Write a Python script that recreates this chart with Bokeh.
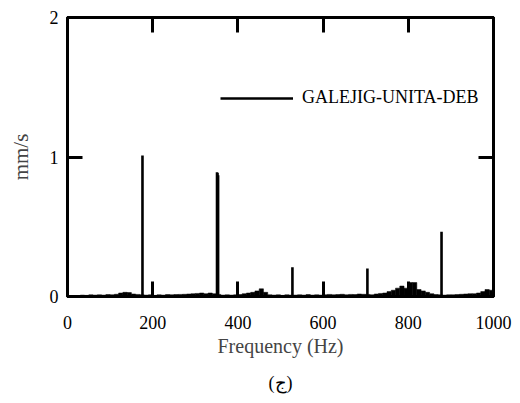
from bokeh.plotting import figure
from bokeh.models import (Range1d, LinearAxis, FixedTicker, Legend, LegendItem, Title,
                          CustomJSTickFormatter)
from bokeh.embed import file_html
from bokeh.resources import INLINE

# ---- data ----
bin_width_hz = 10
bin_left = list(range(0, 1000, 10))
baseline_amp = [
    0.004, 0.005, 0.006, 0.010, 0.008, 0.012, 0.010, 0.012, 0.010, 0.014,
    0.012, 0.016, 0.025, 0.030, 0.028, 0.018, 0.015, 0.012, 0.010, 0.012,
    0.008, 0.012, 0.010, 0.014, 0.012, 0.014, 0.015, 0.016, 0.018, 0.020,
    0.022, 0.025, 0.020, 0.025, 0.020, 0.015, 0.010, 0.012, 0.010, 0.012,
    0.014, 0.020, 0.025, 0.030, 0.040, 0.055, 0.030, 0.012, 0.010, 0.012,
    0.008, 0.012, 0.010, 0.010, 0.012, 0.010, 0.014, 0.010, 0.012, 0.010,
    0.012, 0.015, 0.012, 0.014, 0.016, 0.012, 0.015, 0.014, 0.018, 0.016,
    0.015, 0.012, 0.018, 0.022, 0.025, 0.035, 0.045, 0.060, 0.075, 0.060,
    0.100, 0.100, 0.050, 0.040, 0.030, 0.020, 0.014, 0.012, 0.010, 0.012,
    0.012, 0.014, 0.016, 0.018, 0.020, 0.020, 0.025, 0.035, 0.050, 0.045,
]
peak_freq = [176, 351, 352, 353.5, 528, 704, 878]
peak_amp = [1.01, 0.89, 0.885, 0.87, 0.21, 0.20, 0.465]

series_name = "GALEJIG-UNITA-DEB"
x_ticks = [0, 200, 400, 600, 800, 1000]
y_ticks = [0, 1, 2]
x_title = "Frequency (Hz)"
y_title = "mm/s"
caption = "(ج)"

FONT = "Liberation Serif"

p = figure(width=520, height=403, output_backend="svg", toolbar_location=None,
           x_range=Range1d(0, 1000), y_range=Range1d(0, 2),
           min_border_left=67, min_border_right=27, min_border_top=17, min_border_bottom=107)
p.grid.visible = False
p.outline_line_color = "black"
p.outline_line_width = 3
p.background_fill_color = "white"
p.border_fill_color = "white"

bin_centers = [b + bin_width_hz / 2 for b in bin_left]
p.vbar(x=bin_centers, width=bin_width_hz, top=baseline_amp, bottom=0,
       fill_color="black", line_color="black", line_width=0.5)
peaks = p.segment(x0=peak_freq, y0=[0] * len(peak_freq), x1=peak_freq, y1=peak_amp,
                  line_color="black", line_width=2.6, line_cap="butt")

def style_axis(ax, labels=True):
    ax.axis_line_width = 3
    ax.axis_line_color = "black"
    ax.major_tick_in = 15
    ax.major_tick_out = 0
    ax.major_tick_line_width = 3
    ax.major_tick_line_color = "black"
    ax.minor_tick_line_color = None
    ax.major_label_text_font = FONT
    ax.major_label_text_color = "black"
    ax.major_label_text_font_size = "18px"
    if not labels:
        ax.formatter = CustomJSTickFormatter(code="return '';")
        ax.major_label_standoff = 0

xb = p.xaxis[0]
xb.ticker = FixedTicker(ticks=x_ticks)
style_axis(xb)
xb.major_label_standoff = 19
xb.axis_label = x_title
xb.axis_label_text_font = FONT
xb.axis_label_text_font_size = "20px"
xb.axis_label_text_font_style = "normal"
xb.axis_label_standoff = 3

yl = p.yaxis[0]
yl.ticker = FixedTicker(ticks=y_ticks)
style_axis(yl)
yl.major_label_standoff = 9
yl.axis_label = y_title
yl.axis_label_text_font = FONT
yl.axis_label_text_font_size = "21px"
yl.axis_label_text_font_style = "normal"
yl.axis_label_standoff = 14

xt = LinearAxis(ticker=FixedTicker(ticks=x_ticks))
style_axis(xt, labels=False)
p.add_layout(xt, "above")

yr = LinearAxis(ticker=FixedTicker(ticks=y_ticks))
style_axis(yr, labels=False)
p.add_layout(yr, "right")

legend = Legend(items=[LegendItem(label=series_name, renderers=[peaks])],
                location=(153, 188), glyph_width=73, glyph_height=20, label_height=20,
                label_standoff=9, padding=0, margin=0, spacing=0,
                border_line_color=None, background_fill_alpha=0,
                label_text_font=FONT, label_text_font_size="18px", label_text_color="black")
p.add_layout(legend)

cap = Title(text=caption, align="center", vertical_align="bottom", text_font=FONT,
            text_font_size="18px", text_font_style="normal", text_color="black", standoff=22)
p.add_layout(cap, "below")

open("out.html", "w").write(file_html(p, INLINE))
